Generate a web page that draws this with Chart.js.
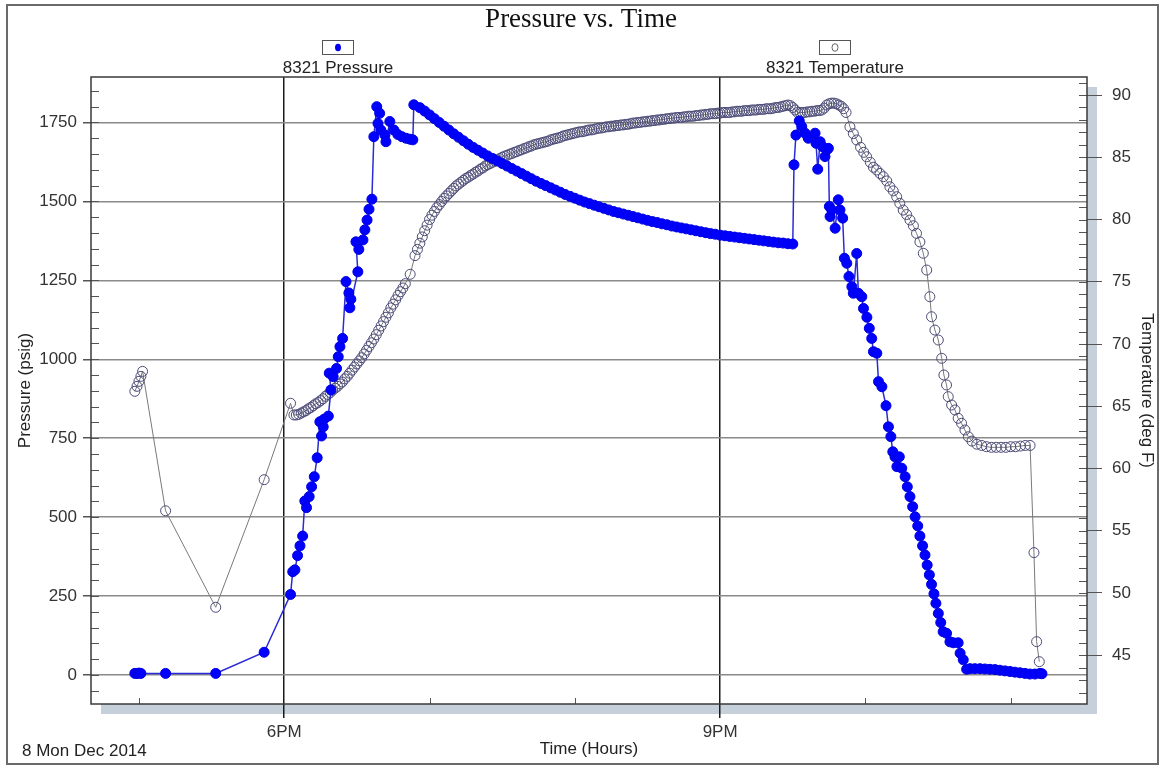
<!DOCTYPE html>
<html>
<head>
<meta charset="utf-8">
<title>Pressure vs. Time</title>
<script src="https://cdn.jsdelivr.net/npm/chart.js@4.4.1/dist/chart.umd.min.js"></script>
<style>
  html, body { margin: 0; padding: 0; background: #fff; }
  #chart-container { width: 1162px; height: 767px; }
</style>
</head>
<body>
<div id="chart-container"><canvas id="chart" width="1162" height="767"></canvas></div>
<script>
// times are minutes after midnight, 8 Dec 2014
const pressureTimes = [
  1018.3, 1019.2, 1020.0, 1020.8, 1031.0, 1051.7, 1071.7,
  1082.6, 1083.5, 1084.4, 1085.5, 1086.5, 1087.6, 1088.5, 1089.2, 1090.3, 1091.3,
  1092.4, 1093.6, 1094.7, 1095.4, 1096.1, 1096.4, 1098.2, 1099.3, 1098.6, 1100.2,
  1101.6, 1102.3, 1103.0, 1104.1, 1105.5, 1106.7, 1107.5, 1107.1, 1110.4, 1109.6,
  1110.8, 1112.5, 1113.3, 1114.2, 1115.0, 1116.2, 1117.0, 1118.2, 1119.4, 1118.7,
  1119.9, 1121.6, 1122.0, 1123.6, 1125.3, 1126.9, 1128.6, 1130.3, 1131.9, 1133.1, 1133.5,
  1136, 1138, 1140, 1142, 1144, 1146, 1148, 1150, 1152, 1154, 1156, 1158, 1160,
  1162, 1164, 1166, 1168, 1170, 1172, 1174, 1176, 1178, 1180, 1182, 1184, 1186,
  1188, 1190, 1192, 1194, 1196, 1198, 1200, 1202, 1204, 1206, 1208, 1210, 1212,
  1214, 1216, 1218, 1220, 1222, 1224, 1226, 1228, 1230, 1232, 1234, 1236, 1238,
  1240, 1242, 1244, 1246, 1248, 1250, 1252, 1254, 1256, 1258, 1260, 1262, 1264,
  1266, 1268, 1270, 1272, 1274, 1276, 1278, 1280, 1282, 1284, 1286, 1288, 1290,
  1290.5, 1291.3, 1292.7, 1293.7, 1295.1, 1296.4, 1299.2, 1299.6, 1300.3, 1301.3,
  1302.3, 1303.3, 1304.0, 1304.7, 1305.1, 1305.4, 1306.1, 1307.5, 1308.8, 1309.5,
  1310.6, 1311.3, 1312.3, 1313.2, 1314.4, 1315.0, 1316.4, 1317.1, 1318.5, 1319.2,
  1320.6, 1321.6, 1322.6, 1323.3, 1324.7, 1325.4, 1326.8, 1328.5, 1329.5, 1330.5,
  1331.3, 1332.2, 1333.0, 1334.0, 1335.0, 1336.4, 1337.3, 1338.4, 1339.5, 1340.5,
  1341.6, 1342.5, 1343.6, 1344.6, 1345.5, 1346.4, 1347.3, 1348.3, 1349.1, 1350.1,
  1351.1, 1352.1, 1353.5, 1354.9, 1356.3, 1358.3, 1359.1, 1360.4, 1361.8, 1363.2,
  1365.2, 1367.3, 1369.3, 1371.4, 1373.5, 1375.5, 1377.6, 1379.7, 1381.7, 1383.8,
  1385.9, 1387.9, 1390.0, 1392.1, 1392.9
];
const pressureValues = [
  5, 5, 6, 5, 5, 5, 72,
  255, 327, 333, 378, 409, 440, 551, 530, 565, 596,
  628, 688, 802, 757, 786, 810, 820, 903, 956, 945,
  971, 1008, 1040, 1066, 1246, 1210, 1190, 1163, 1277, 1372,
  1348, 1378, 1410, 1441, 1475, 1507, 1705, 1800, 1779, 1747,
  1726, 1710, 1689, 1753, 1726, 1712, 1705, 1700, 1697, 1695, 1806,
  1797, 1786, 1774, 1762, 1750, 1738, 1726, 1714, 1703, 1692, 1681, 1671, 1662,
  1653, 1644, 1636, 1628, 1620, 1612, 1604, 1596, 1588, 1580, 1572, 1564, 1557,
  1550, 1543, 1536, 1529, 1522, 1516, 1510, 1504, 1498, 1493, 1488, 1483, 1478,
  1473, 1468, 1464, 1460, 1456, 1452, 1448, 1444, 1440, 1436, 1433, 1429, 1426,
  1422, 1419, 1416, 1413, 1410, 1407, 1404, 1401, 1398, 1396, 1393, 1391, 1389,
  1387, 1385, 1383, 1381, 1379, 1377, 1375, 1373, 1371, 1369, 1368, 1366, 1365,
  1616, 1710, 1755, 1737, 1716, 1700, 1716, 1684, 1602, 1689,
  1673, 1642, 1663, 1668, 1484, 1452, 1473, 1415, 1505, 1473,
  1447, 1320, 1304, 1262, 1230, 1209, 1335, 1209, 1198, 1161,
  1133, 1098, 1066, 1024, 1019, 929, 913, 853, 786, 755,
  707, 691, 660, 691, 655, 628, 596, 565, 533, 501,
  472, 440, 409, 380, 348, 317, 287, 257, 227, 195,
  166, 137, 132, 105, 102, 102, 69, 48, 18, 20,
  20, 20, 19, 18, 17, 15, 13, 11, 9, 7,
  5, 3, 3, 5, 4
];

const tempTimes = [
  1018.3, 1019.2, 1020.0, 1020.8, 1021.5, 1031.0, 1051.7, 1071.7, 1082.6,
  1084, 1085, 1086, 1087, 1088, 1089, 1090, 1091, 1092, 1093, 1094, 1095, 1096, 1097,
  1098, 1099, 1100, 1101, 1102, 1103, 1104, 1105, 1106, 1107, 1108, 1109, 1110, 1111,
  1112, 1113, 1114, 1115, 1116, 1117, 1118, 1119, 1120, 1121, 1122, 1123, 1124, 1125,
  1126, 1127, 1128, 1129, 1130, 1132,
  1134, 1135, 1136, 1137, 1138, 1139, 1140, 1141, 1142, 1143, 1144, 1145, 1146, 1147,
  1148, 1149, 1150, 1151, 1152, 1153, 1154, 1155, 1156, 1157, 1158, 1159, 1160, 1161,
  1162, 1163, 1164, 1165, 1166, 1167, 1168, 1169, 1170, 1171, 1172, 1173, 1174, 1175,
  1176, 1177, 1178, 1179, 1180, 1181, 1182, 1183, 1184, 1185, 1186, 1187, 1188, 1189,
  1190, 1191, 1192, 1193, 1194, 1195, 1196, 1197, 1198, 1199, 1200, 1201, 1202, 1203,
  1204, 1205, 1206, 1207, 1208, 1209, 1210, 1211, 1212, 1213, 1214, 1215, 1216, 1217,
  1218, 1219, 1220, 1221, 1222, 1223, 1224, 1225, 1226, 1227, 1228, 1229, 1230, 1231,
  1232, 1233, 1234, 1235, 1236, 1237, 1238, 1239, 1240, 1241, 1242, 1243, 1244, 1245,
  1246, 1247, 1248, 1249, 1250, 1251, 1252, 1253, 1254, 1255, 1256, 1257, 1258, 1259,
  1260, 1261, 1262, 1263, 1264, 1265, 1266, 1267, 1268, 1269, 1270, 1271, 1272, 1273,
  1274, 1275, 1276, 1277, 1278, 1279, 1280, 1281, 1282, 1283, 1284, 1285, 1286, 1287,
  1288, 1289, 1290, 1291, 1292, 1293, 1294, 1295, 1296, 1297, 1298, 1299, 1300, 1301,
  1302, 1303, 1304, 1305, 1306, 1307, 1308, 1309, 1310, 1311, 1312,
  1313.6, 1315.0, 1316.4, 1318.0, 1319.3, 1320.5, 1322.0, 1323.3, 1324.6, 1326.0,
  1327.4, 1328.8, 1330.1, 1331.5, 1332.9, 1334.2, 1335.6, 1337.0, 1338.4, 1339.8,
  1341.1, 1342.5, 1343.9, 1345.3, 1346.6, 1347.3, 1348.7, 1350.1, 1351.5, 1352.4,
  1353.5, 1354.2, 1355.6, 1357.0, 1358.3, 1359.7, 1361.1, 1362.5, 1364, 1366,
  1368, 1370, 1372, 1374, 1376, 1378, 1380, 1382, 1384, 1386, 1388,
  1389.6, 1390.7, 1391.8
];
const tempValues = [
  66.2, 66.6, 67.0, 67.4, 67.8, 56.6, 48.85, 59.1, 65.24,
  64.3, 64.3, 64.35, 64.45, 64.55, 64.65, 64.8, 64.9, 65.05, 65.2, 65.3, 65.45, 65.6, 65.8,
  65.95, 66.1, 66.3, 66.45, 66.6, 66.8, 66.95, 67.2, 67.4, 67.65, 67.9, 68.15, 68.4, 68.65,
  68.9, 69.2, 69.5, 69.8, 70.1, 70.4, 70.75, 71.1, 71.45, 71.8, 72.15, 72.5, 72.9, 73.2,
  73.55, 73.9, 74.2, 74.5, 74.85, 75.6,
  77.1, 77.6, 78.1, 78.6, 79.1, 79.55, 80.0, 80.35, 80.65, 80.95, 81.2, 81.45, 81.7, 81.9,
  82.1, 82.3, 82.5, 82.7, 82.85, 83.0, 83.15, 83.3, 83.4, 83.55, 83.65, 83.8, 83.9, 84.05,
  84.15, 84.3, 84.4, 84.5, 84.6, 84.7, 84.8, 84.9, 85.0, 85.1, 85.15, 85.25, 85.3, 85.4,
  85.45, 85.55, 85.6, 85.7, 85.75, 85.85, 85.9, 86.0, 86.05, 86.1, 86.15, 86.2, 86.25, 86.3,
  86.4, 86.45, 86.5, 86.55, 86.6, 86.7, 86.75, 86.8, 86.85, 86.9, 86.95, 87.0, 87.05, 87.05,
  87.1, 87.15, 87.2, 87.2, 87.25, 87.3, 87.35, 87.35, 87.4, 87.45, 87.45, 87.5, 87.5, 87.55,
  87.55, 87.6, 87.6, 87.65, 87.65, 87.7, 87.75, 87.75, 87.8, 87.8, 87.85, 87.85, 87.9, 87.9,
  87.95, 87.95, 88.0, 88.0, 88.05, 88.05, 88.1, 88.1, 88.15, 88.15, 88.2, 88.2, 88.2, 88.25,
  88.25, 88.3, 88.3, 88.3, 88.35, 88.35, 88.4, 88.4, 88.45, 88.45, 88.5, 88.5, 88.5, 88.55,
  88.55, 88.6, 88.6, 88.6, 88.6, 88.65, 88.65, 88.7, 88.7, 88.7, 88.75, 88.75, 88.75, 88.8,
  88.8, 88.8, 88.85, 88.85, 88.85, 88.9, 88.9, 88.9, 88.95, 89.0, 89.0, 89.05, 89.1, 89.15,
  89.2, 89.15, 89.0, 88.8, 88.6, 88.6, 88.6, 88.6, 88.65, 88.65, 88.7, 88.7, 88.75, 88.75,
  88.8, 88.95, 89.2, 89.3, 89.35, 89.35, 89.3, 89.2, 89.1, 88.9, 88.6,
  87.45, 86.9, 86.39, 85.8, 85.4, 85.04, 84.6, 84.2, 83.98, 83.7,
  83.44, 83.1, 82.63, 82.3, 81.83, 81.3, 80.76, 80.4, 79.96, 79.5,
  78.89, 78.2, 77.29, 75.94, 73.8, 72.19, 71.12, 70.32, 68.85, 67.51,
  66.71, 65.77, 65.1, 64.7, 64.03, 63.63, 63.09, 62.55, 62.2, 61.95,
  61.85, 61.75, 61.7, 61.7, 61.7, 61.7, 61.75, 61.75, 61.8, 61.85, 61.85,
  53.24, 46.09, 44.48
];

const hourLabels = { 1080: '6PM', 1260: '9PM' };
const seriesNames = ['8321 Pressure', '8321 Temperature'];

const sans = '"Liberation Sans", Arial, sans-serif';
const tickFont = { family: sans, size: 17 };

const toPoints = (xs, ys) => xs.map((x, i) => ({ x: x, y: ys[i] }));

// frame, shadow strips, inner minor ticks, legend and date stamp
const decorations = {
  id: 'decorations',
  beforeDraw(chart) {
    const { ctx, chartArea: a } = chart;
    ctx.save();
    ctx.fillStyle = '#fff';
    ctx.fillRect(0, 0, chart.width, chart.height);
    ctx.fillStyle = '#c5d0da';
    ctx.fillRect(a.right, a.top + 10, 10, a.bottom - a.top);
    ctx.fillRect(a.left + 10, a.bottom, a.right - a.left, 10);
    ctx.restore();
  },
  afterDraw(chart) {
    const { ctx, chartArea: a, scales } = chart;
    const line = (x1, y1, x2, y2) => {
      ctx.beginPath(); ctx.moveTo(x1, y1); ctx.lineTo(x2, y2); ctx.stroke();
    };
    ctx.save();
    ctx.strokeStyle = '#555';
    ctx.lineWidth = 1;
    scales.y.ticks.forEach(t => {
      const y = Math.round(scales.y.getPixelForValue(t.value)) + 0.5;
      line(a.left, y, a.left + 8, y);
    });
    scales.y1.ticks.forEach(t => {
      const y = Math.round(scales.y1.getPixelForValue(t.value)) + 0.5;
      line(a.right - 8, y, a.right, y);
    });
    scales.x.ticks.forEach(t => {
      if (hourLabels[t.value]) return;
      const x = Math.round(scales.x.getPixelForValue(t.value)) + 0.5;
      line(x, a.bottom, x, a.bottom - 6);
    });

    ctx.strokeStyle = '#3a3a3a';
    ctx.lineWidth = 1.5;
    ctx.strokeRect(a.left, a.top, a.right - a.left, a.bottom - a.top);

    ctx.strokeStyle = '#6a6a6a';
    ctx.lineWidth = 2;
    ctx.strokeRect(7, 5, 1151, 759);

    // legend: symbol box above centred name
    const items = [
      { x: 338, name: seriesNames[0], filled: true },
      { x: 835, name: seriesNames[1], filled: false }
    ];
    ctx.font = '17px ' + sans;
    ctx.textAlign = 'center';
    ctx.textBaseline = 'middle';
    items.forEach(it => {
      ctx.strokeStyle = '#555';
      ctx.lineWidth = 1;
      ctx.strokeRect(it.x - 15.5, 40.5, 31, 14);
      ctx.beginPath();
      ctx.ellipse(it.x, 47.5, 3, 3.8, 0, 0, Math.PI * 2);
      if (it.filled) {
        ctx.fillStyle = '#0000ee';
        ctx.fill();
      } else {
        ctx.strokeStyle = '#666';
        ctx.stroke();
      }
      ctx.fillStyle = '#222';
      ctx.fillText(it.name, it.x, 68);
    });

    ctx.textAlign = 'left';
    ctx.fillText('8 Mon Dec 2014', 22, 751);
    ctx.restore();
  }
};

const canvas = document.getElementById('chart');
const chart = new Chart(canvas, {
  type: 'line',
  data: {
    datasets: [{
      label: seriesNames[0],
      data: toPoints(pressureTimes, pressureValues),
      yAxisID: 'y',
      borderColor: '#2a2ad8',
      borderWidth: 1.5,
      pointRadius: 5,
      pointBackgroundColor: '#0000ff',
      pointBorderColor: '#0000e0',
      pointBorderWidth: 1,
      tension: 0
    }, {
      label: seriesNames[1],
      data: toPoints(tempTimes, tempValues),
      yAxisID: 'y1',
      borderColor: '#7a7a7a',
      borderWidth: 1,
      pointRadius: 5,
      pointBackgroundColor: 'rgba(255,255,255,0)',
      pointBorderColor: '#4c4c78',
      pointBorderWidth: 1,
      tension: 0
    }]
  },
  options: {
    responsive: false,
    animation: false,
    events: [],
    layout: { padding: 0 },
    plugins: {
      legend: { display: false },
      tooltip: { enabled: false },
      title: {
        display: true,
        text: 'Pressure vs. Time',
        color: '#111',
        font: { family: '"Liberation Serif", "Times New Roman", serif', size: 27, weight: 'normal' },
        padding: { top: 4, bottom: 40.6 }
      }
    },
    scales: {
      x: {
        type: 'linear',
        position: 'bottom',
        min: 1000.2,
        max: 1411.5,
        afterFit: s => { s.height = 63; },
        border: { display: false },
        grid: {
          color: c => hourLabels[c.tick.value] ? '#1a1a1a' : 'rgba(0,0,0,0)',
          tickColor: c => hourLabels[c.tick.value] ? '#1a1a1a' : 'rgba(0,0,0,0)',
          lineWidth: 1.5,
          tickLength: 14
        },
        ticks: {
          stepSize: 60,
          includeBounds: false,
          autoSkip: false,
          maxRotation: 0,
          padding: 4,
          color: '#333',
          font: tickFont,
          callback: v => hourLabels[v] || ''
        },
        title: {
          display: true,
          text: 'Time (Hours)',
          color: '#222',
          font: tickFont,
          padding: { top: 0, bottom: 7.6 }
        }
      },
      y: {
        position: 'left',
        min: -91.9,
        max: 1894,
        afterFit: s => { s.width = 91; },
        border: { display: false },
        grid: {
          color: c => c.tick.value % 250 === 0 ? '#8a8a8a' : 'rgba(0,0,0,0)',
          tickColor: c => c.tick.value % 250 === 0 ? '#555' : 'rgba(0,0,0,0)',
          lineWidth: 1.5,
          tickLength: 8
        },
        ticks: {
          stepSize: 50,
          includeBounds: false,
          autoSkip: false,
          padding: 6,
          color: '#333',
          font: tickFont,
          callback: v => v % 250 === 0 ? String(v) : ''
        },
        title: {
          display: true,
          text: 'Pressure (psig)',
          color: '#222',
          font: tickFont,
          padding: { top: 15, bottom: 0 }
        }
      },
      y1: {
        position: 'right',
        min: 41.08,
        max: 91.45,
        afterFit: s => { s.width = 75; },
        border: { display: false },
        grid: {
          drawOnChartArea: false,
          tickColor: c => c.tick.value % 5 === 0 ? '#555' : 'rgba(0,0,0,0)',
          lineWidth: 1,
          tickLength: 15
        },
        ticks: {
          stepSize: 1,
          includeBounds: false,
          autoSkip: false,
          padding: 10,
          color: '#333',
          font: tickFont,
          callback: v => v % 5 === 0 ? String(v) : ''
        },
        title: {
          display: true,
          text: 'Temperature (deg F)',
          color: '#222',
          font: tickFont,
          padding: { top: 5, bottom: 0 }
        }
      }
    }
  },
  plugins: [decorations]
});
</script>
</body>
</html>
